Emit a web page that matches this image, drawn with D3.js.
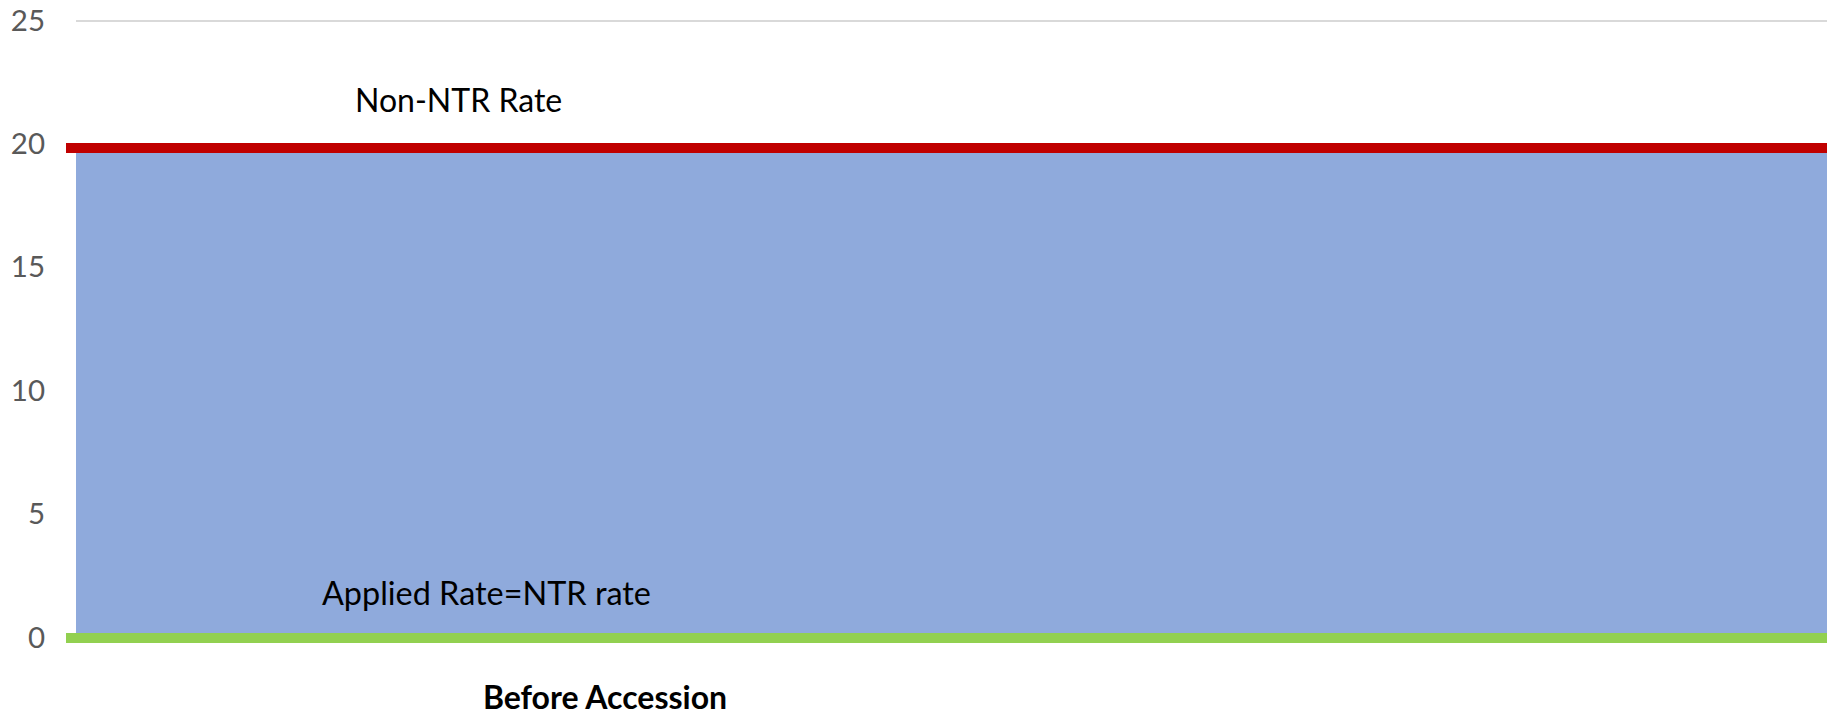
<!DOCTYPE html>
<html>
<head>
<meta charset="utf-8">
<script src="https://cdn.jsdelivr.net/npm/d3@7"></script>
<style>
  html, body { margin: 0; padding: 0; background: #fff; }
  svg { display: block; }
</style>
</head>
<body>
<svg id="chart" width="1827" height="716"></svg>
<script>
// Chart values
const categories = ["Before Accession"];
const nonNtrRate = [19.85];     // red line
const bandTop = [19.65];        // top of the shaded band
const appliedRate = [0];        // green line
const yTicks = [0, 5, 10, 15, 20, 25];
const lineLabels = ["Non-NTR Rate", "Applied Rate=NTR rate"];

const W = 1827, H = 716;
const plot = { left: 76, right: 1827, top: 21, bottom: 638 };

const svg = d3.select("#chart");
const font = "Lato, 'Open Sans', sans-serif";

const y = d3.scaleLinear().domain([0, 25]).range([plot.bottom, plot.top]);
// one category; band spans the left part of a wider plot
const x = d3.scaleBand().domain(categories).range([plot.left, 1134]).padding(0);

// gridlines
svg.append("g")
  .selectAll("line")
  .data(yTicks)
  .join("line")
  .attr("x1", plot.left)
  .attr("x2", plot.right)
  .attr("y1", d => y(d))
  .attr("y2", d => y(d))
  .attr("stroke", "#d9d9d9")
  .attr("stroke-width", 2);

// y tick labels
svg.append("g")
  .selectAll("text")
  .data(yTicks)
  .join("text")
  .attr("x", 45)
  .attr("y", d => y(d) - 2)
  .attr("text-anchor", "end")
  .attr("dominant-baseline", "central")
  .attr("font-family", font)
  .attr("font-size", 29.5)
  .attr("fill", "#595959")
  .text(d => d);

// shaded band
const area = d3.area()
  .x(d => d.x)
  .y0(y(0) - 5)
  .y1(d => y(d.v));
svg.append("path")
  .datum([{ x: plot.left, v: bandTop[0] }, { x: plot.right, v: bandTop[0] }])
  .attr("d", area)
  .attr("fill", "#8faadc");

// rate lines
const line = d3.line().x(d => d.x).y(d => y(d.v));
const lines = [
  { vals: nonNtrRate, color: "#c00000" },
  { vals: appliedRate, color: "#92d050" }
];
svg.append("g")
  .selectAll("path")
  .data(lines)
  .join("path")
  .attr("d", d => line([{ x: plot.left - 10, v: d.vals[0] }, { x: plot.right, v: d.vals[0] }]))
  .attr("fill", "none")
  .attr("stroke", d => d.color)
  .attr("stroke-width", 10);

// line labels
svg.append("text")
  .attr("x", 355).attr("y", y(nonNtrRate[0]) - 36)
  .attr("font-family", font).attr("font-size", 32).attr("fill", "#000")
  .text(lineLabels[0]);
svg.append("text")
  .attr("x", 322).attr("y", y(appliedRate[0]) - 33)
  .attr("font-family", font).attr("font-size", 32.4).attr("fill", "#000")
  .text(lineLabels[1]);

// category axis label
svg.append("g")
  .selectAll("text")
  .data(categories)
  .join("text")
  .attr("x", d => x(d) + x.bandwidth() / 2)
  .attr("y", 709)
  .attr("text-anchor", "middle")
  .attr("font-family", font)
  .attr("font-weight", "bold")
  .attr("font-size", 32)
  .attr("fill", "#000")
  .text(d => d);
</script>
</body>
</html>
